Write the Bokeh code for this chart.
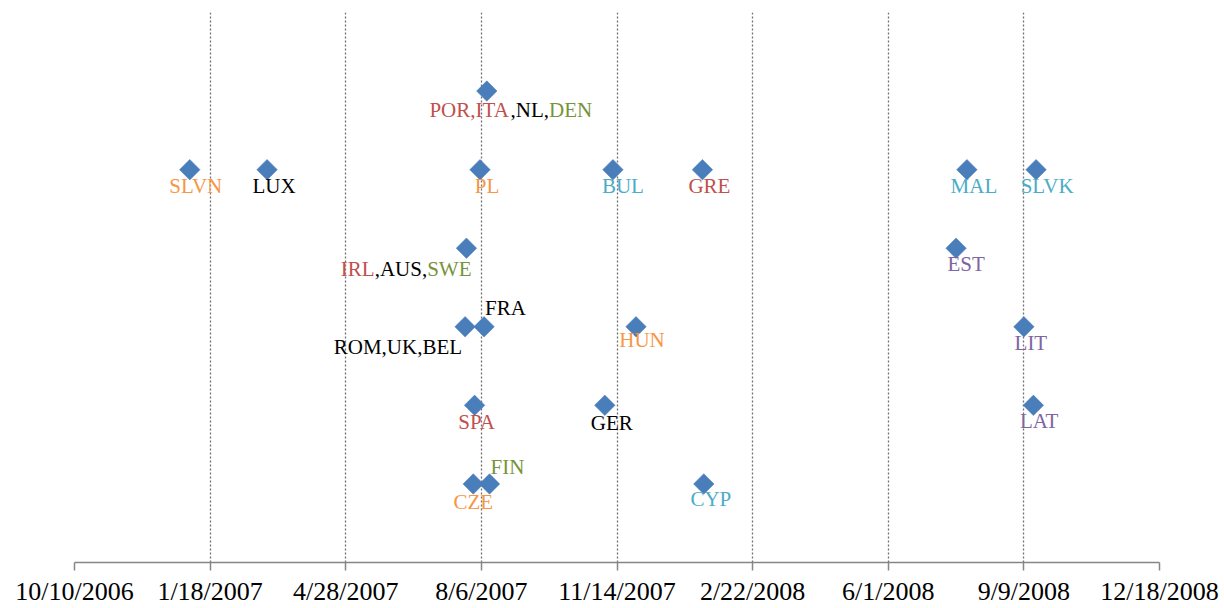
from datetime import datetime
import numpy as np
from bokeh.plotting import figure
from bokeh.models import ColumnDataSource, FixedTicker, CustomJSTickFormatter, Range1d
from bokeh.core.properties import value
from bokeh.embed import file_html
from bokeh.resources import INLINE

# ---------------- data ----------------
tick_labels = ["10/10/2006", "1/18/2007", "4/28/2007", "8/6/2007", "11/14/2007",
               "2/22/2008", "6/1/2008", "9/9/2008", "12/18/2008"]

point_labels = ["POR,ITA,NL,DEN", "SLVN", "LUX", "PL", "BUL", "GRE", "MAL", "SLVK",
                "IRL,AUS,SWE", "EST",
                "ROM,UK,BEL", "FRA", "HUN", "LIT",
                "SPA", "GER", "LAT",
                "CZE", "FIN", "CYP"]
point_dates = ["2007-08-10", "2007-01-03", "2007-03-01", "2007-08-05", "2007-11-11",
               "2008-01-16", "2008-07-29", "2008-09-18",
               "2007-07-26", "2008-07-21",
               "2007-07-25", "2007-08-08", "2007-11-28", "2008-09-09",
               "2007-08-01", "2007-11-05", "2008-09-16",
               "2007-07-31", "2007-08-12", "2008-01-17"]
point_levels = [6, 5, 5, 5, 5, 5, 5, 5,
                4, 4,
                3, 3, 3, 3,
                2, 2, 2,
                1, 1, 1]

# ---------------- styles ----------------
RED, GREEN, ORANGE, AQUA, PURPLE, BLACK = "#C0504D", "#77933C", "#F79646", "#4BACC6", "#8064A2", "#000000"
country_color = {
    "POR": RED, "ITA": RED, "NL": BLACK, "DEN": GREEN, "SLVN": ORANGE, "LUX": BLACK,
    "PL": ORANGE, "BUL": AQUA, "GRE": RED, "MAL": AQUA, "SLVK": AQUA,
    "IRL": RED, "AUS": BLACK, "SWE": GREEN, "EST": PURPLE,
    "ROM": BLACK, "UK": BLACK, "BEL": BLACK, "FRA": BLACK, "HUN": ORANGE, "LIT": PURPLE,
    "SPA": RED, "GER": BLACK, "LAT": PURPLE, "CZE": ORANGE, "FIN": GREEN, "CYP": AQUA,
}
# label placement: (align, dx px, baseline dy px below point)
default_place = ("center", 7, 16)
label_place = {
    "POR,ITA,NL,DEN": ("center", 24, 19),
    "IRL,AUS,SWE": ("right", 5, 21),
    "ROM,UK,BEL": ("right", -3, 20),
    "FRA": ("left", 1, -19),
    "FIN": ("left", 1, -17),
    "SLVK": ("center", 12, 16),
    "BUL": ("center", 10, 16),
    "EST": ("center", 10, 16),
    "HUN": ("center", 6, 13),
    "CYP": ("center", 7, 15),
    "CZE": ("center", 0, 18),
    "SPA": ("center", 3, 17),
    "GER": ("center", 7, 18),
}
FONT = "'Liberation Serif', 'Times New Roman', serif"
LABEL_SIZE = 21
TICK_SIZE = 26
# Times / Liberation Serif advance widths (per 1000 em)
W = {"A": 722, "B": 667, "C": 667, "D": 722, "E": 611, "F": 556, "G": 722, "H": 722,
     "I": 333, "J": 389, "K": 722, "L": 611, "M": 889, "N": 722, "O": 722, "P": 556,
     "Q": 722, "R": 667, "S": 556, "T": 611, "U": 722, "V": 722, "W": 944, "X": 722,
     "Y": 722, "Z": 611, ",": 250}


def text_w(s):
    return sum(W.get(c, 600) for c in s) / 1000.0 * LABEL_SIZE


def to_dt(s):
    if "/" in s:
        return datetime.strptime(s, "%m/%d/%Y")
    return datetime.strptime(s, "%Y-%m-%d")


tick_dates = [to_dt(t) for t in tick_labels]
epoch = datetime(1970, 1, 1)
tick_ms = [(d - epoch).total_seconds() * 1000.0 for d in tick_dates]
xs = [to_dt(d) for d in point_dates]

p = figure(width=1224, height=608, x_axis_type="datetime",
           output_backend="svg", toolbar_location=None,
           x_range=Range1d(tick_dates[0], tick_dates[-1]),
           y_range=Range1d(0, 7),
           min_border_left=74, min_border_right=65, min_border_top=12, min_border_bottom=46)
p.outline_line_color = None
p.background_fill_color = "white"
p.border_fill_color = "white"
p.yaxis.visible = False
p.ygrid.visible = False

xa = p.xaxis[0]
xa.ticker = FixedTicker(ticks=tick_ms)
xa.formatter = CustomJSTickFormatter(args=dict(tvals=tick_ms, tlabels=tick_labels), code="""
let best = 0, bd = Infinity;
for (let i = 0; i < tvals.length; i++) {
  const d = Math.abs(tvals[i] - tick);
  if (d < bd) { bd = d; best = i; }
}
return tlabels[best];
""")
xa.axis_line_color = "#868686"
xa.axis_line_width = 1.5
xa.major_tick_line_color = "#868686"
xa.major_tick_line_width = 1.5
xa.major_tick_out = 8
xa.major_tick_in = 0
xa.minor_tick_line_color = None
xa.major_label_text_font = FONT
xa.major_label_text_font_size = f"{TICK_SIZE}px"
xa.major_label_text_color = "#000000"
xa.major_label_standoff = 6

p.xgrid.grid_line_color = "#707070"
p.xgrid.grid_line_dash = "2 2"
p.xgrid.grid_line_width = 1.3

src = ColumnDataSource(dict(x=xs, y=point_levels))
p.scatter("x", "y", source=src, marker="square", angle=np.pi / 4, size=14.5,
          fill_color="#4A7EBB", line_color="#4A7EBB", line_width=0.5)

# labels, split into colored segments
sx, sy, st, sc, sox, soy = [], [], [], [], [], []
for lab, x, y in zip(point_labels, xs, point_levels):
    align, dx, dy = label_place.get(lab, default_place)
    names = lab.split(",")
    segs = []
    for i, n in enumerate(names):
        c = country_color[n]
        segs.append((n, c))
        if i < len(names) - 1:
            nxt = country_color[names[i + 1]]
            segs.append((",", c if nxt == c else BLACK))
    total = sum(text_w(s) for s, _ in segs)
    if align == "center":
        start = dx - total / 2
    elif align == "right":
        start = dx - total
    else:
        start = dx
    cum = start
    for s, c in segs:
        sx.append(x); sy.append(y); st.append(s); sc.append(c)
        sox.append(cum); soy.append(dy)
        cum += text_w(s)

lsrc = ColumnDataSource(dict(x=sx, y=sy, text=st, color=sc, xo=sox, yo=soy))
p.text("x", "y", text="text", source=lsrc, text_color="color", x_offset="xo", y_offset="yo",
       text_font=value(FONT), text_font_size=f"{LABEL_SIZE}px",
       text_align="left", text_baseline="alphabetic")

open("out.html", "w").write(file_html(p, INLINE))
